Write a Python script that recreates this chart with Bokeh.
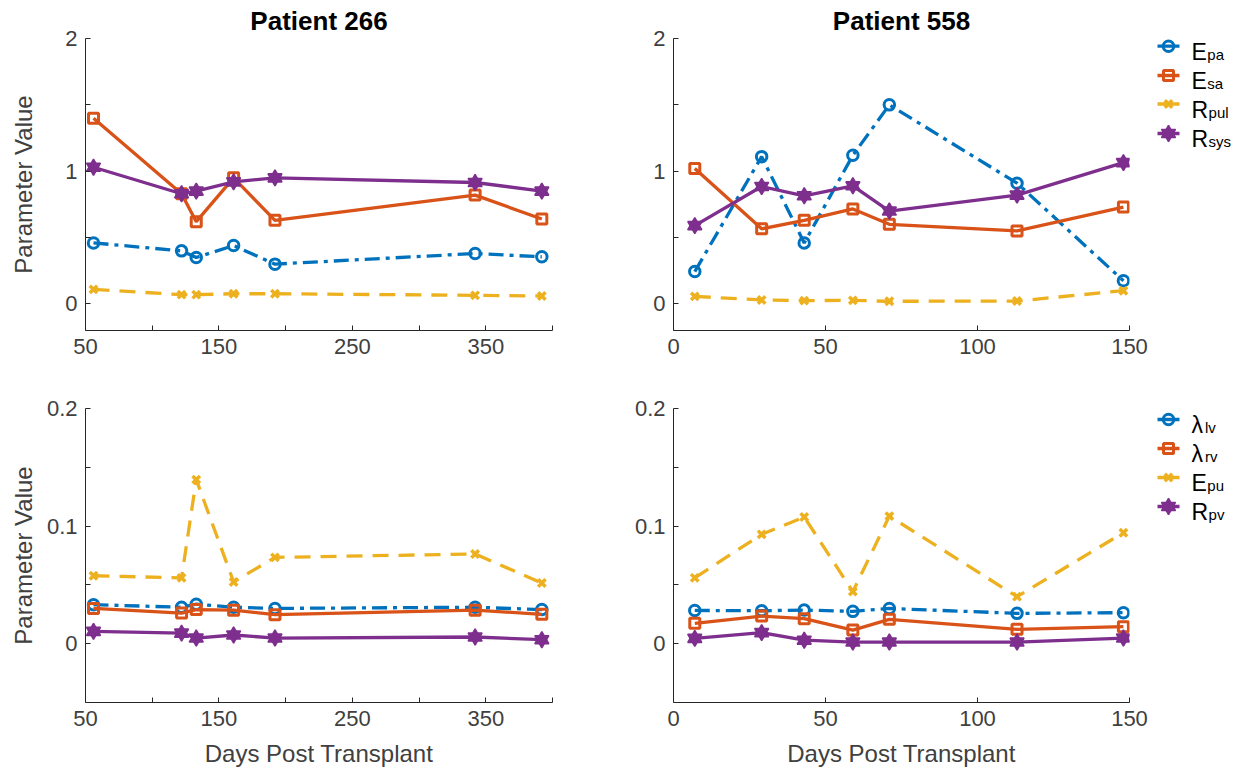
from bokeh.plotting import figure
from bokeh.models import Range1d, FixedTicker
from bokeh.layouts import row, column
from bokeh.embed import file_html
from bokeh.resources import INLINE
from bokeh.core.properties import value

# ---------------- data ----------------
days_266 = [56, 122, 133, 161, 192, 342, 392]
days_558 = [7, 29, 43, 59, 71, 113, 148]

p266_Epa = [0.46, 0.40, 0.35, 0.44, 0.30, 0.38, 0.355]
p266_Esa = [1.40, 0.83, 0.62, 0.95, 0.63, 0.82, 0.64]
p266_Rpul = [0.11, 0.07, 0.07, 0.077, 0.077, 0.065, 0.06]
p266_Rsys = [1.03, 0.83, 0.85, 0.92, 0.95, 0.915, 0.85]

p558_Epa = [0.244, 1.11, 0.46, 1.12, 1.50, 0.91, 0.175]
p558_Esa = [1.02, 0.566, 0.63, 0.716, 0.60, 0.55, 0.73]
p558_Rpul = [0.057, 0.03, 0.025, 0.027, 0.02, 0.022, 0.10]
p558_Rsys = [0.59, 0.885, 0.815, 0.89, 0.70, 0.82, 1.065]

p266_lam_lv = [0.0332, 0.031, 0.0336, 0.031, 0.030, 0.031, 0.029]
p266_lam_rv = [0.030, 0.026, 0.029, 0.0285, 0.0247, 0.0285, 0.025]
p266_Epu = [0.0578, 0.056, 0.1395, 0.0525, 0.0734, 0.0763, 0.0516]
p266_Rpv = [0.0105, 0.009, 0.0048, 0.0074, 0.0048, 0.0057, 0.0034]

p558_lam_lv = [0.0283, 0.028, 0.0286, 0.0275, 0.030, 0.0258, 0.0264]
p558_lam_rv = [0.0173, 0.0235, 0.0213, 0.0116, 0.0207, 0.0122, 0.0145]
p558_Epu = [0.056, 0.093, 0.1077, 0.0443, 0.1085, 0.040, 0.0944]
p558_Rpv = [0.0045, 0.0094, 0.003, 0.0014, 0.0014, 0.0014, 0.0048]

titles = ["Patient 266", "Patient 558"]
x_label = "Days Post Transplant"
y_label = "Parameter Value"
top_legend = [("E", "pa"), ("E", "sa"), ("R", "pul"), ("R", "sys")]
bottom_legend = [("\u03bb", "lv"), ("\u03bb", "rv"), ("E", "pu"), ("R", "pv")]

# ---------------- styles ----------------
BLUE, ORANGE, YELLOW, PURPLE = "#0072BD", "#D95319", "#EDB120", "#7E2F8E"
DASHDOT, SOLID, DASHED = "15 6 4 6", "solid", "16 10"
STYLES = [(BLUE, DASHDOT, "circle"), (ORANGE, SOLID, "square"),
          (YELLOW, DASHED, "x"), (PURPLE, SOLID, "hexagram")]
FONT = "Liberation Sans"
AX = "#262626"
TXT = "#404040"
LW = 3.3


def add_markers(p, x, y, color, marker):
    if marker == "circle":
        p.scatter(x, y, marker="circle", size=10.5, line_color=color,
                  line_width=3, fill_alpha=0)
    elif marker == "square":
        p.scatter(x, y, marker="square", size=10, line_color=color,
                  line_width=3, fill_alpha=0)
    elif marker == "x":
        p.scatter(x, y, marker="x", size=10.5, line_color=color, line_width=3.5)
    else:
        for m in ("triangle", "inverted_triangle"):
            p.scatter(x, y, marker=m, size=14, line_color=color,
                      fill_color=color, line_width=1.5)


def add_series(p, x, y, style):
    color, dash, marker = style
    p.line(x, y, line_color=color, line_width=LW, line_dash=dash)
    add_markers(p, x, y, color, marker)


def make_fig(width, height, left, right, top, bottom, xr, yr,
             xt, xm, yt, ym, title=None, xlab=None, ylab=None, ylab_standoff=4):
    p = figure(width=width, height=height, output_backend="svg",
               toolbar_location=None, x_range=Range1d(*xr), y_range=Range1d(*yr),
               min_border_left=left, min_border_right=right,
               min_border_top=top, min_border_bottom=bottom)
    p.outline_line_color = None
    p.grid.visible = False
    p.xaxis.ticker = FixedTicker(ticks=xt, minor_ticks=xm)
    p.yaxis.ticker = FixedTicker(ticks=yt, minor_ticks=ym)
    for ax in (p.xaxis[0], p.yaxis[0]):
        ax.axis_line_color = AX
        ax.axis_line_width = 1
        ax.major_tick_line_color = AX
        ax.minor_tick_line_color = AX
        ax.major_tick_in = 5
        ax.major_tick_out = 0
        ax.minor_tick_in = 5
        ax.minor_tick_out = 0
        ax.major_label_text_font = FONT
        ax.major_label_text_font_size = "22px"
        ax.major_label_text_color = TXT
        ax.major_label_standoff = 8
        ax.axis_label_text_font = FONT
        ax.axis_label_text_font_size = "24px"
        ax.axis_label_text_color = TXT
        ax.axis_label_text_font_style = "normal"
    if xlab:
        p.xaxis.axis_label = xlab
        p.xaxis.axis_label_standoff = 11
    if ylab:
        p.yaxis.axis_label = ylab
        p.yaxis.axis_label_standoff = ylab_standoff
    if title:
        p.title.text = title
        p.title.align = "center"
        p.title.text_font = FONT
        p.title.text_font_size = "26px"
        p.title.text_font_style = "bold"
        p.title.text_color = "black"
        p.title.standoff = 6
    return p


TOP_H, BOT_H = 380, 390
L_W = 85 + 467 + 20
R_W = 101 + 456 + 24
G_W = 1240 - L_W - R_W

f1 = make_fig(L_W, TOP_H, 85, 20, 36, 50, (50, 400), (-0.2, 2),
              [50, 150, 250, 350], [100, 200, 300, 400], [0, 1, 2], [0.5, 1.5],
              title=titles[0], ylab=y_label, ylab_standoff=25)
f2 = make_fig(R_W, TOP_H, 101, 24, 36, 50, (0, 150), (-0.2, 2),
              [0, 50, 100, 150], [], [0, 1, 2], [0.5, 1.5], title=titles[1])
f3 = make_fig(L_W, BOT_H, 85, 20, 28, 68, (50, 400), (-0.05, 0.2),
              [50, 150, 250, 350], [100, 200, 300, 400], [0, 0.1, 0.2], [0.05, 0.15],
              xlab=x_label, ylab=y_label, ylab_standoff=7)
f4 = make_fig(R_W, BOT_H, 101, 24, 28, 68, (0, 150), (-0.05, 0.2),
              [0, 50, 100, 150], [], [0, 0.1, 0.2], [0.05, 0.15], xlab=x_label)

for s, y in zip(STYLES, [p266_Epa, p266_Esa, p266_Rpul, p266_Rsys]):
    add_series(f1, days_266, y, s)
for s, y in zip(STYLES, [p558_Epa, p558_Esa, p558_Rpul, p558_Rsys]):
    add_series(f2, days_558, y, s)
for s, y in zip(STYLES, [p266_lam_lv, p266_lam_rv, p266_Epu, p266_Rpv]):
    add_series(f3, days_266, y, s)
for s, y in zip(STYLES, [p558_lam_lv, p558_lam_rv, p558_Epu, p558_Rpv]):
    add_series(f4, days_558, y, s)

# ---------------- legends (separate panels, pixel coordinates) ----------------
WIDTHS = {"E": 0.667, "R": 0.722, "\u03bb": 0.56}
MAIN_FS, SUB_FS = 23, 15
x0 = L_W + R_W


def make_legend(height, ytop, items, ys):
    g = figure(width=G_W, height=height, output_backend="svg", toolbar_location=None,
               x_range=Range1d(x0, x0 + G_W), y_range=Range1d(ytop + height, ytop),
               x_axis_location=None, y_axis_location=None, min_border=0)
    g.outline_line_color = None
    g.grid.visible = False
    for (main, sub), yy, st in zip(items, ys, STYLES):
        color, dash, marker = st
        g.line([1157, 1179], [yy, yy], line_color=color, line_width=LW, line_dash="solid")
        add_markers(g, [1168], [yy], color, marker)
        g.text([1191], [yy + 5.5], text=[main], text_font=value(FONT),
               text_font_size=f"{MAIN_FS}px", text_color="black",
               text_baseline="alphabetic", text_align="left")
        g.text([1191 + WIDTHS[main] * MAIN_FS + 0.5], [yy + 8], text=[sub],
               text_font=value(FONT), text_font_size=f"{SUB_FS}px",
               text_color="black", text_baseline="alphabetic", text_align="left")
    return g


g1 = make_legend(TOP_H, 0, top_legend, [45.7, 75, 103.5, 133])
g2 = make_legend(BOT_H, TOP_H, bottom_legend, [419, 448, 477, 506])

layout = row(column(f1, f3), column(f2, f4), column(g1, g2))
open("out.html", "w").write(file_html(layout, INLINE))
